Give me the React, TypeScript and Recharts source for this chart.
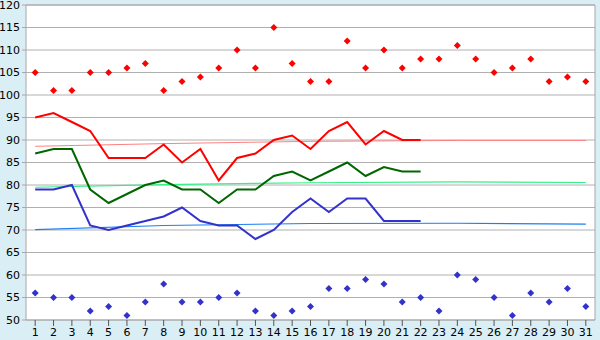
import { ComposedChart, Line, XAxis, YAxis, CartesianGrid, ReferenceLine } from "recharts";

const days = [1, 2, 3, 4, 5, 6, 7, 8, 9, 10, 11, 12, 13, 14, 15, 16, 17, 18, 19, 20, 21, 22, 23, 24, 25, 26, 27, 28, 29, 30, 31];
const highs = [105, 101, 101, 105, 105, 106, 107, 101, 103, 104, 106, 110, 106, 115, 107, 103, 103, 112, 106, 110, 106, 108, 108, 111, 108, 105, 106, 108, 103, 104, 103];
const lows = [56, 55, 55, 52, 53, 51, 54, 58, 54, 54, 55, 56, 52, 51, 52, 53, 57, 57, 59, 58, 54, 55, 52, 60, 59, 55, 51, 56, 54, 57, 53];
const redSeries = [95, 96, 94, 92, 86, 86, 86, 89, 85, 88, 81, 86, 87, 90, 91, 88, 92, 94, 89, 92, 90, 90];
const greenSeries = [87, 88, 88, 79, 76, 78, 80, 81, 79, 79, 76, 79, 79, 82, 83, 81, 83, 85, 82, 84, 83, 83];
const blueSeries = [79, 79, 80, 71, 70, 71, 72, 73, 75, 72, 71, 71, 68, 70, 74, 77, 74, 77, 77, 72, 72, 72];

// trend lines, read at a few days and joined
const trendDays = [1, 8, 16, 24, 31];
const redTrend = [88.6, 89.2, 89.7, 89.9, 89.9];
const greenTrend = [79.5, 80.1, 80.5, 80.7, 80.55];
const blueTrend = [70.1, 71.0, 71.45, 71.5, 71.3];

const yTicks = [50, 55, 60, 65, 70, 75, 80, 85, 90, 95, 100, 105, 110, 115, 120];

const data = days.map((d, i) => {
  const t = trendDays.indexOf(d);
  return {
    day: d,
    hi: highs[i],
    lo: lows[i],
    red: i < redSeries.length ? redSeries[i] : null,
    green: i < greenSeries.length ? greenSeries[i] : null,
    blue: i < blueSeries.length ? blueSeries[i] : null,
    redT: t >= 0 ? redTrend[t] : null,
    greenT: t >= 0 ? greenTrend[t] : null,
    blueT: t >= 0 ? blueTrend[t] : null,
  };
});

const diamond = (color: string) => (p: any) => {
  const { cx, cy, key } = p;
  if (cx == null || cy == null) return <g key={key} />;
  return (
    <path key={key} d={`M${cx},${cy - 3.5}L${cx + 3.5},${cy}L${cx},${cy + 3.5}L${cx - 3.5},${cy}Z`} fill={color} stroke="none" />
  );
};

const tickStyle = { fill: "#000", fontSize: 11, fontFamily: "DejaVu Sans" };

export default function App() {
  return (
    <div style={{ position: "fixed", left: 0, top: 0, width: 600, height: 340, background: "#d9eef5" }}>
      <ComposedChart width={600} height={340} data={data} margin={{ top: 5, right: 5, left: 0, bottom: 0 }}>
        <CartesianGrid vertical={false} stroke="#b0b0b0" fill="#ffffff" />
        <XAxis dataKey="day" type="number" domain={[0.5, 31.5]} ticks={days} interval={0} height={20}
          axisLine={{ stroke: "#a8a8a8" }} tickLine={{ stroke: "#555" }} tickSize={6} tick={tickStyle} />
        <YAxis domain={[50, 120]} ticks={yTicks} interval={0} width={26} tickSize={4}
          axisLine={{ stroke: "#a8a8a8" }} tickLine={{ stroke: "#a8a8a8" }} tick={tickStyle} />
        <ReferenceLine x={31.5} stroke="#a8a8a8" />
        <ReferenceLine y={120} stroke="#a8a8a8" />
        <Line dataKey="redT" stroke="#ff8080" strokeWidth={1} dot={false} connectNulls isAnimationActive={false} />
        <Line dataKey="greenT" stroke="#33f08a" strokeWidth={1.2} dot={false} connectNulls isAnimationActive={false} />
        <Line dataKey="blueT" stroke="#1a80f0" strokeWidth={1.2} dot={false} connectNulls isAnimationActive={false} />
        <Line dataKey="red" stroke="#ff0000" strokeWidth={2} dot={false} isAnimationActive={false} />
        <Line dataKey="green" stroke="#006600" strokeWidth={2} dot={false} isAnimationActive={false} />
        <Line dataKey="blue" stroke="#3333cc" strokeWidth={2} dot={false} isAnimationActive={false} />
        <Line dataKey="hi" stroke="none" dot={diamond("#ff0000")} activeDot={false} isAnimationActive={false} />
        <Line dataKey="lo" stroke="none" dot={diamond("#3333cc")} activeDot={false} isAnimationActive={false} />
      </ComposedChart>
    </div>
  );
}
